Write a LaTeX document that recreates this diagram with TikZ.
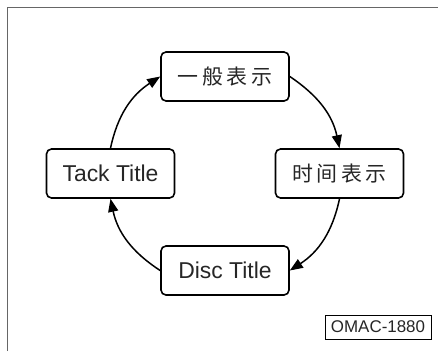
\documentclass[tikz,border=0pt]{standalone}
\usepackage{fontspec}
\setmainfont{Liberation Sans}
\newfontfamily\cjkfont{Noto Sans CJK SC}
\usetikzlibrary{arrows.meta}
\begin{document}
\begin{tikzpicture}[x=1bp,y=1bp,
  stagebox/.style={draw=black,line width=1.6bp,rounded corners=5bp,minimum width=128bp,minimum height=49bp,inner sep=0pt,text=black!85,font=\fontsize{23}{26}\selectfont},
  cjktext/.style={font=\fontsize{21}{24}\selectfont\cjkfont},
  flowarrow/.style={line width=1.5bp,-{Triangle[length=13bp,width=10bp]}},
  tagbox/.style={draw=black,line width=0.9bp,minimum width=106bp,minimum height=24bp,inner sep=0pt,text=black!85,font=\fontsize{17}{20}\selectfont}]
\useasboundingbox (0,0) rectangle (438,351);
\draw[black!60,line width=1bp] (7.5,0) -- (7.5,343.5) -- (438,343.5);
\node[stagebox,cjktext] (gen) at (225,274.5) {一\,般\,表\,示};
\node[stagebox,cjktext] (time) at (339.5,177.5) {时\,间\,表\,示};
\node[stagebox] (tack) at (110.5,177.5) {Tack Title};
\node[stagebox] (disc) at (225,80.5) {Disc Title};
\node[tagbox] (tag) at (378,24) {OMAC-1880};
\draw[flowarrow] (gen.east) to[out=-34,in=102] (time.north);
\draw[flowarrow] (time.south) to[out=-102,in=33] (disc.east);
\draw[flowarrow] (disc.west) to[out=147,in=-78] (tack.south);
\draw[flowarrow] (tack.north) to[out=78,in=-147] (gen.west);
\end{tikzpicture}
\end{document}
